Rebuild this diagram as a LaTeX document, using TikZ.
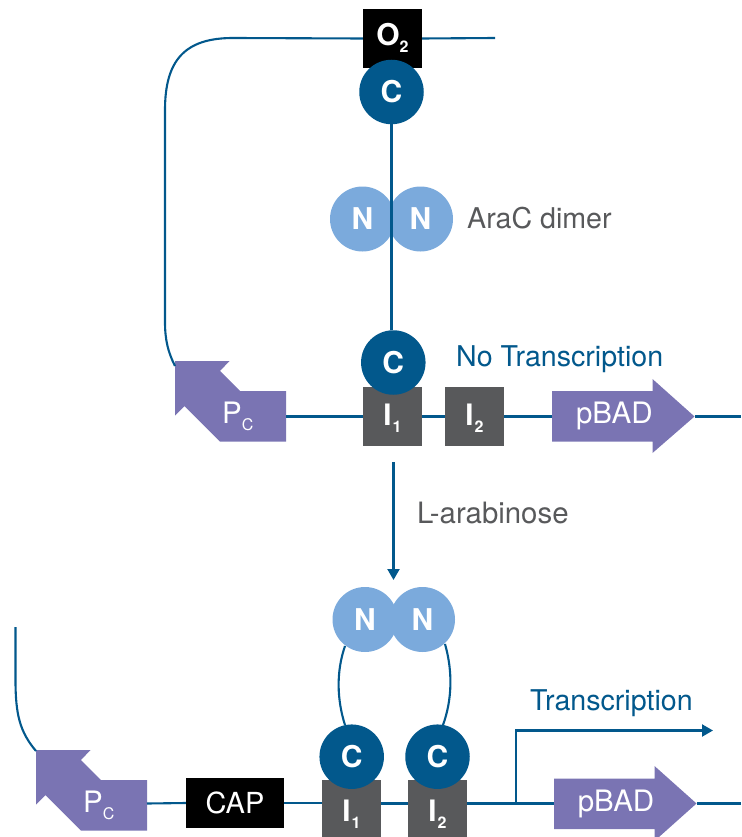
\documentclass[tikz,border=0pt]{standalone}
\usepackage{fontspec}
\setmainfont{TeX Gyre Heros}
\usetikzlibrary{arrows.meta}
\definecolor{dnablue}{HTML}{02588C}
\definecolor{domainlight}{HTML}{7BAADC}
\definecolor{genepurple}{HTML}{7A74B3}
\definecolor{sitegray}{HTML}{58595B}
\newcommand{\fsz}[1]{\fontsize{#1}{#1}\selectfont}
\newcommand{\lowsub}[2]{\kern#1pt\raisebox{-7pt}{\fsz{16}#2}}
\tikzset{
  wire/.style={draw=dnablue,line width=2.1pt},
  genebody/.style={fill=genepurple},
  sitebox/.style={fill=sitegray,text=white,inner sep=0pt,minimum width=59pt,minimum height=59pt,font=\fsz{29.5}\bfseries,text depth=0pt,text height=#1},
  blackbox/.style={fill=black,text=white,inner sep=0pt,font=\fsz{30}\bfseries,text depth=0pt,text height=#1},
  cdomain/.style={circle,fill=dnablue,text=white,inner sep=0pt,minimum size=64.5pt,font=\fsz{30}\bfseries,text height=21pt,text depth=0pt},
  ndomain/.style={circle,fill=domainlight,text=white,inner sep=0pt,minimum size=65pt,font=\fsz{30}\bfseries,text height=21pt,text depth=0pt},
  genetext/.style={text=white,inner sep=0pt,font=\fsz{29.5},anchor=base},
  graylabel/.style={text=sitegray,inner sep=0pt,font=\fsz{28.6},anchor=base west},
  bluelabel/.style={text=dnablue,inner sep=0pt,font=\fsz{28.6},anchor=base west},
  tip/.style={-{Triangle[length=11pt,width=12pt]}}
}
\begin{document}
\begin{tikzpicture}[x=1pt,y=-1pt]
\useasboundingbox (0,0) rectangle (741,837);
\clip (0,0) rectangle (741,837);

% free ends
\coordinate (topend) at (495,38);
\coordinate (cornerA) at (233,38);
\coordinate (pcAhead) at (175,366);
\coordinate (pcAend) at (286,416.5);
\coordinate (badAbase) at (552,416.5);
\coordinate (badAtip) at (694.5,416.5);
\coordinate (rightA) at (741,416.5);
\coordinate (freeB) at (15.5,627);
\coordinate (pcBhead) at (36,751);
\coordinate (pcBend) at (147,803.5);
\coordinate (badBbase) at (554,803.5);
\coordinate (badBtip) at (696.5,803.5);
\coordinate (rightB) at (741,803.5);
\coordinate (branchB) at (516,803.5);
\coordinate (branchTop) at (516,730.5);
\coordinate (branchTip) at (713,730.5);
\coordinate (arabStart) at (393.5,462);
\coordinate (arabTip) at (393.5,580);

% gene arrows
\fill[genebody] (175,361) -- (229.5,361) -- (220,371) -- (240,391) -- (286,391) -- (286,441.5) -- (220,441.5) -- (184.5,406) -- (175,415.5) -- cycle;
\fill[genebody] (36,750) -- (90.5,750) -- (81,760) -- (101,780) -- (147,780) -- (147,830.5) -- (81,830.5) -- (45.5,795) -- (36,804.5) -- cycle;
\fill[genebody] (552,391) -- (652.5,391) -- (652.5,379) -- (694.5,416.5) -- (652.5,453) -- (652.5,441.5) -- (552,441.5) -- cycle;
\fill[genebody] (554,778.5) -- (654.5,778.5) -- (654.5,766) -- (696.5,803.5) -- (654.5,841) -- (654.5,829) -- (554,829) -- cycle;

% operator sites, top
\node[blackbox=14.4pt,minimum width=59pt,minimum height=59pt] (oTwo) at (392.5,38.5) {O\lowsub{0}{2}};
\node[sitebox=17pt] (iOneA) at (392.5,416.5) {I\lowsub{1}{1}};
\node[sitebox=17pt] (iTwoA) at (474.5,416.5) {I\lowsub{1}{2}};
% operator sites, bottom
\node[blackbox=20pt,minimum width=98pt,minimum height=50pt,font=\fsz{29}] (cap) at (235,803) {CAP};
\node[sitebox=24.4pt] (iOneB) at (351.5,809.5) {I\lowsub{1}{1}};
\node[sitebox=24.4pt] (iTwoB) at (437.5,809.5) {I\lowsub{1}{2}};

% protein domains
\node[cdomain] (cTop) at (391.5,92) {C};
\node[cdomain] (cLow) at (393.3,362.5) {C};
\node[ndomain] (nAl) at (362.5,219) {N};
\node[ndomain] (nAr) at (420.5,219) {N};
\node[ndomain] (nBl) at (365,619.5) {N};
\node[ndomain] (nBr) at (422.5,619.5) {N};
\node[cdomain] (cBl) at (351.7,756.7) {C};
\node[cdomain] (cBr) at (437.5,756.7) {C};

% DNA
\draw[wire] (oTwo.east) -- (topend);
\draw[wire] (oTwo.west) -- (cornerA) .. controls (185,38) and (165,60) .. (165,110) -- (165,322) .. controls (165,340) and (168,352) .. (pcAhead);
\draw[wire] (pcAend) -- (iOneA.west);
\draw[wire] (iOneA.east) -- (iTwoA.west);
\draw[wire] (iTwoA.east) -- (badAbase);
\draw[wire] (badAtip) -- (rightA);
\draw[wire] (freeB) -- (15.5,680) .. controls (15.5,715) and (20,732) .. (pcBhead);
\draw[wire] (pcBend) -- (cap.west);
\draw[wire] (cap.east) -- (iOneB.west |- cap.east);
\draw[wire] (iOneB.east |- pcBend) -- (iTwoB.west |- pcBend);
\draw[wire] (iTwoB.east |- pcBend) -- (badBbase);
\draw[wire] (badBtip) -- (rightB);

% protein linkers
\draw[wire] (cTop.south) -- (cLow.north -| cTop.south);
\draw[wire] (345,646) .. controls (336,672) and (337,700) .. (345,725);
\draw[wire] (445,644) .. controls (453,672) and (452,700) .. (443,725);

% arrows
\draw[wire,tip] (branchB) -- (branchTop) -- (branchTip);
\draw[wire,tip] (arabStart) -- (arabTip);

% gene labels
\node[genetext] (pbadA) at (614.3,423.3) {pBAD};
\node[genetext] (pbadB) at (616,811) {pBAD};
\node[genetext,anchor=base west] (pcA) at (222,423) {P\lowsub{0}{C}};
\node[genetext,anchor=base west] (pcB) at (83,812.7) {P\lowsub{0}{C}};

% labels
\node[graylabel] (dimerlabel) at (467,228.3) {AraC dimer};
\node[bluelabel] (notxlabel) at (456,366) {No Transcription};
\node[graylabel,font=\fsz{29.4}] (arablabel) at (417,523) {L-arabinose};
\node[bluelabel] (txlabel) at (530,710.5) {Transcription};
\end{tikzpicture}
\end{document}
